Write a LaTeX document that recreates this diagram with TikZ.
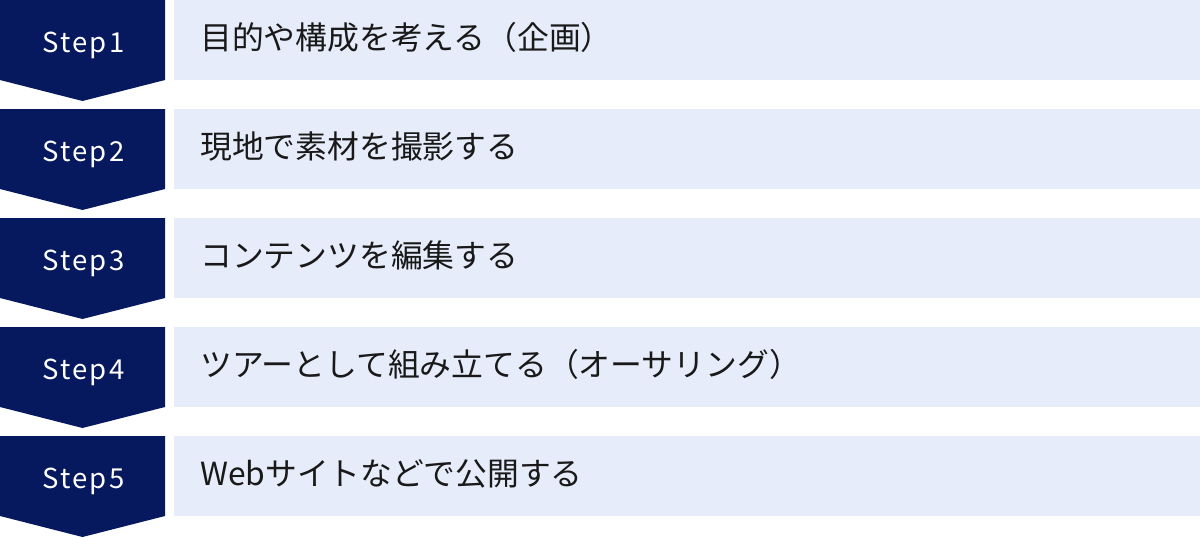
\documentclass[tikz,border=0pt]{standalone}
\usepackage{fontspec}
\setmainfont{Noto Sans CJK JP}
\definecolor{stepnavy}{RGB}{6,24,94}
\definecolor{rowblue}{RGB}{230,236,249}

\begin{document}
\begin{tikzpicture}[x=1pt,y=-1pt,
		steplabel/.style={anchor=base,text=white,font=\fontsize{27.5}{28}\selectfont\addfontfeature{LetterSpace=8}},
		rowtext/.style={anchor=base west,inner xsep=0pt,text=black!90,font=\fontsize{31.8}{32}\selectfont}]
		\useasboundingbox (0,0) rectangle (1200,538);
		% steps: arrow on the left, box with text on the right
		\foreach \t [count=\n, evaluate=\n as \y using 109*(\n-1)] in
			{目的や構成を考える（企画）,現地で素材を撮影する,コンテンツを編集する,
			ツアーとして組み立てる（オーサリング）,Webサイトなどで公開する}
		{
			\fill[stepnavy] (0,\y) -- (165,\y) -- (165,\y+80) -- (82.5,\y+101) -- (0,\y+80) -- cycle;
			\fill[rowblue] (174,\y) rectangle (1200,\y+80);
			\node[steplabel] (step\n) at (83.5,\y+52) {Step\n};
			\node[rowtext] (row\n) at (200,\y+49.5) {\t};
		}
	\end{tikzpicture}
\end{document}
